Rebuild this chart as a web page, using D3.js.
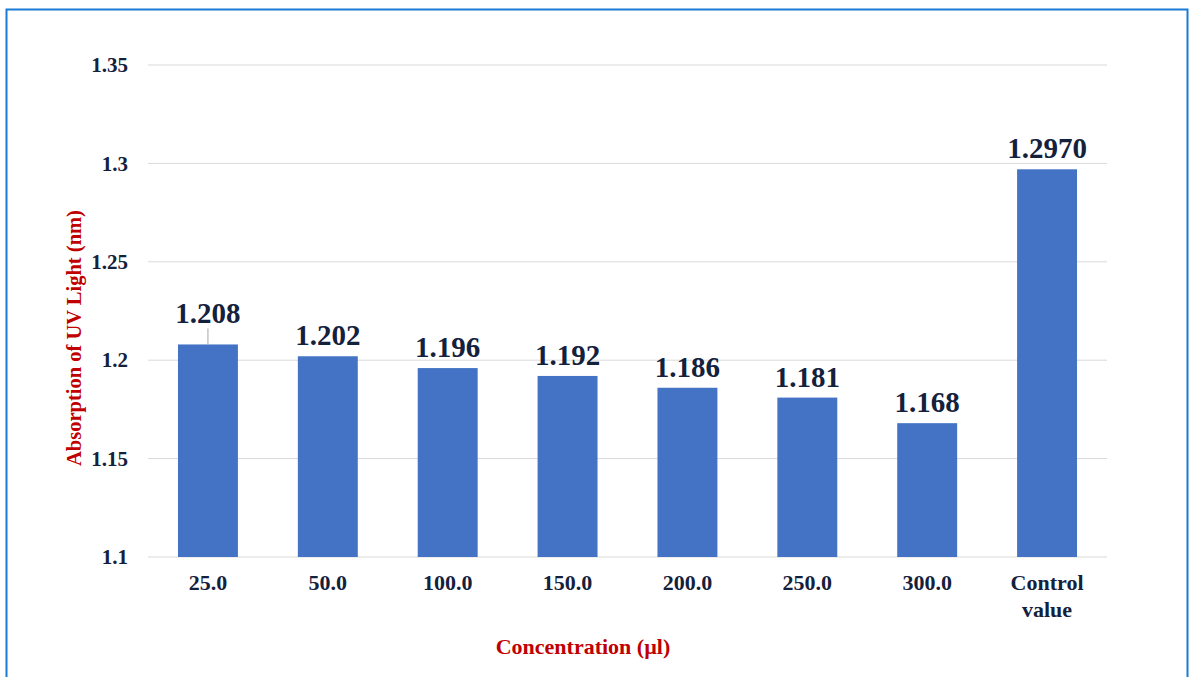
<!DOCTYPE html>
<html>
<head>
<meta charset="utf-8">
<script src="https://cdn.jsdelivr.net/npm/d3@7"></script>
<style>
  body { margin: 0; background: #fff; }
  text { font-family: "Liberation Serif", "Times New Roman", serif; font-weight: bold; }
</style>
</head>
<body>
<div id="chart"></div>
<script>
// chart data
var categories = ['25.0', '50.0', '100.0', '150.0', '200.0', '250.0', '300.0', 'Control value'];
var values = [1.208, 1.202, 1.196, 1.192, 1.186, 1.181, 1.168, 1.2970];
var valueLabels = ['1.208', '1.202', '1.196', '1.192', '1.186', '1.181', '1.168', '1.2970'];
var yTicks = [1.1, 1.15, 1.2, 1.25, 1.3, 1.35];

var svgWidth = 1190;
var svgHeight = 677;

var margin = { top: 65, right: 83, bottom: 120, left: 148 };
var width = svgWidth - margin.left - margin.right;
var height = svgHeight - margin.top - margin.bottom;

var svg = d3.select('#chart')
  .append('svg')
  .attr('width', svgWidth)
  .attr('height', svgHeight);

// blue frame around the picture
svg.append('path')
  .attr('d', 'M6.5,' + svgHeight + 'V9.5H1187.5V' + svgHeight)
  .attr('fill', 'none')
  .attr('stroke', '#1a7bd6')
  .attr('stroke-width', 2);

var chartGroup = svg.append('g')
  .attr('transform', `translate(${margin.left}, ${margin.top})`);

var xScale = d3.scaleBand()
  .domain(categories)
  .range([0, width])
  .paddingInner(0.5)
  .paddingOuter(0.25);

var yScale = d3.scaleLinear()
  .domain([1.1, 1.35])
  .range([height, 0]);

// gridlines
chartGroup.selectAll('.grid')
  .data(yTicks)
  .enter()
  .append('line')
  .attr('x1', 0)
  .attr('x2', width)
  .attr('y1', d => yScale(d))
  .attr('y2', d => yScale(d))
  .attr('stroke', '#d9d9d9')
  .attr('stroke-width', 1);

// y axis labels
var yAxis = chartGroup.append('g')
  .call(d3.axisLeft(yScale).tickValues(yTicks).tickSize(0).tickPadding(20).tickFormat(d => String(+d.toFixed(2))));
yAxis.select('.domain').remove();
yAxis.selectAll('text')
  .attr('font-size', '21px')
  .attr('fill', '#14213d');

// bars
chartGroup.selectAll('.bar')
  .data(values)
  .enter()
  .append('rect')
  .attr('x', (d, i) => xScale(categories[i]))
  .attr('y', d => yScale(d))
  .attr('width', xScale.bandwidth())
  .attr('height', d => height - yScale(d))
  .attr('fill', '#4472c4');

// leader line for the first label
chartGroup.append('line')
  .attr('x1', xScale(categories[0]) + xScale.bandwidth() / 2)
  .attr('x2', xScale(categories[0]) + xScale.bandwidth() / 2)
  .attr('y1', yScale(values[0]))
  .attr('y2', yScale(values[0]) - 16)
  .attr('stroke', '#a6a6a6')
  .attr('stroke-width', 1);

// value labels
chartGroup.selectAll('.val')
  .data(values)
  .enter()
  .append('text')
  .attr('x', (d, i) => xScale(categories[i]) + xScale.bandwidth() / 2)
  .attr('y', (d, i) => yScale(d) - (i === 0 ? 21 : 11))
  .attr('text-anchor', 'middle')
  .attr('font-size', '29px')
  .attr('fill', '#14213d')
  .text((d, i) => valueLabels[i]);

// x axis labels
var xAxis = chartGroup.append('g')
  .attr('transform', `translate(0, ${height})`)
  .call(d3.axisBottom(xScale).tickSize(0).tickPadding(0).tickFormat(''));
xAxis.select('.domain').remove();
xAxis.selectAll('.tick').each(function(d) {
  var words = d.split(' ');
  var t = d3.select(this).append('text')
    .attr('text-anchor', 'middle')
    .attr('font-size', '22px')
    .attr('fill', '#14213d');
  words.forEach(function(w, j) {
    t.append('tspan').attr('x', 0).attr('y', 33 + j * 27).text(w);
  });
});

// axis titles
svg.append('text')
  .attr('transform', `translate(81, ${margin.top + height / 2 + 27}) rotate(-90)`)
  .attr('text-anchor', 'middle')
  .attr('font-size', '20.5px')
  .attr('fill', '#c00000')
  .text('Absorption of UV Light (nm)');

svg.append('text')
  .attr('x', 583)
  .attr('y', 654)
  .attr('text-anchor', 'middle')
  .attr('font-size', '22px')
  .attr('fill', '#c00000')
  .text('Concentration (µl)');
</script>
</body>
</html>
